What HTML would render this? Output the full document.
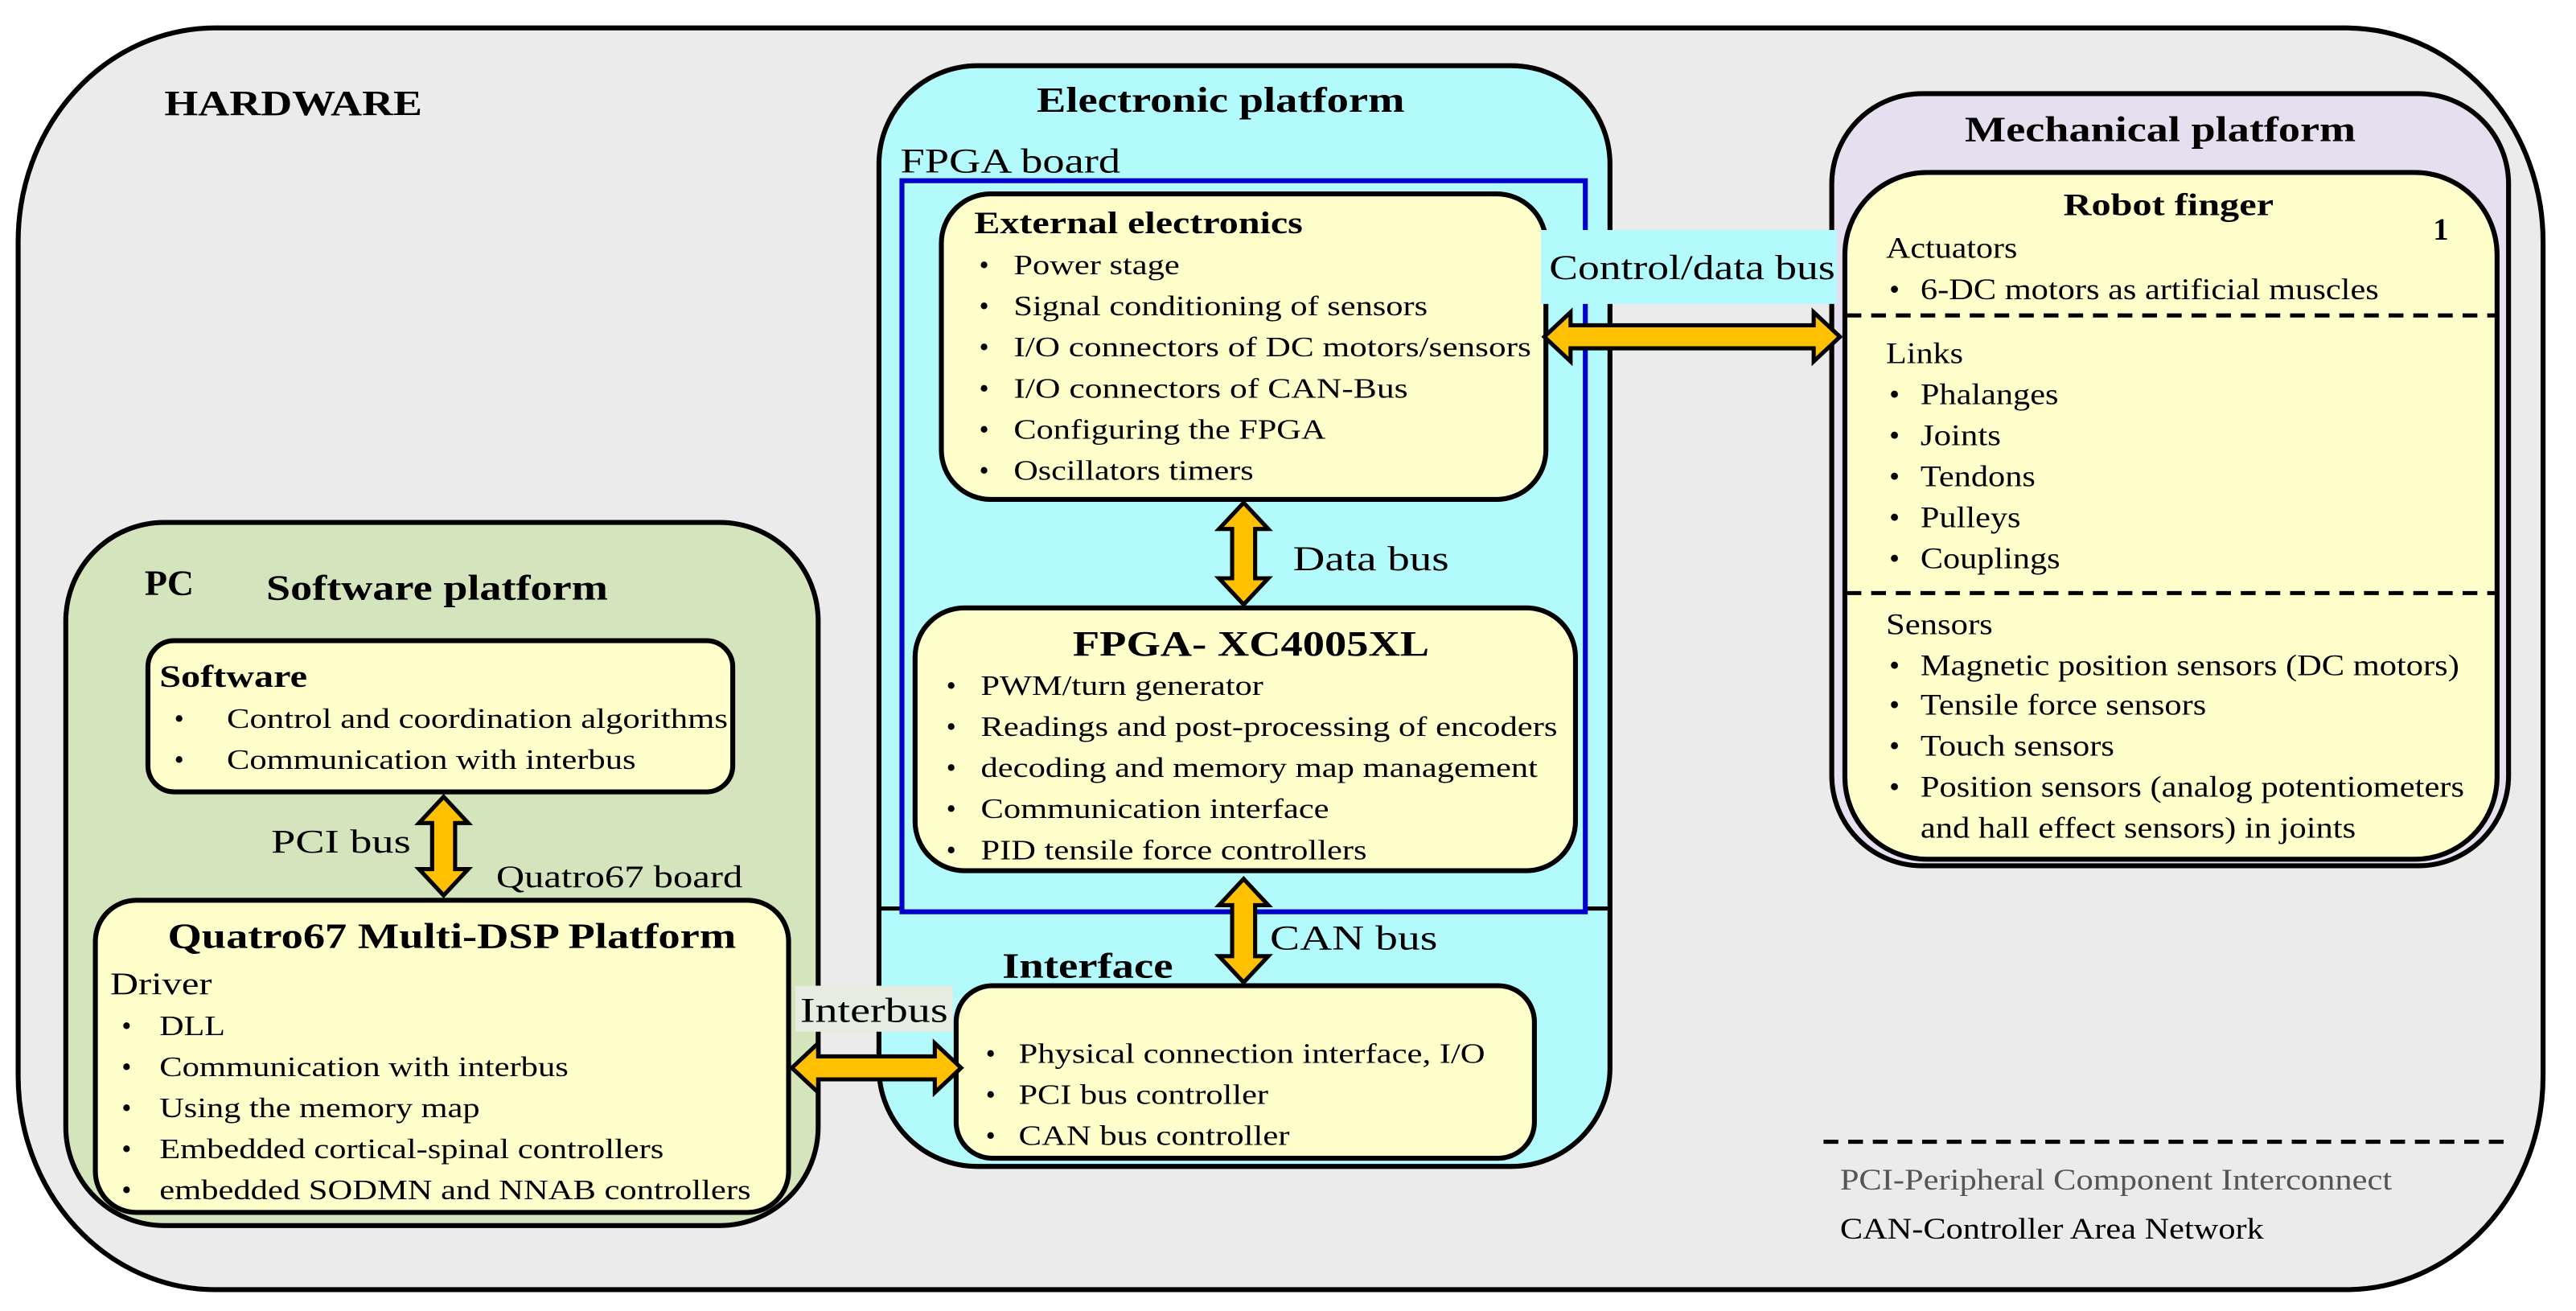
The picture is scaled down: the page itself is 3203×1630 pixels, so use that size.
<!DOCTYPE html>
<html><head><meta charset="utf-8"><style>
html,body{margin:0;padding:0;background:#fff}
svg{display:block}
text{font-family:"Liberation Serif","Times New Roman",serif;fill:#000}
.b{font-weight:bold}
.arr{fill:#ffc000;stroke:#000;stroke-width:2.5;stroke-linejoin:miter}
</style></head><body>
<svg width="3203" height="1630" viewBox="0 0 1568 798" xmlns="http://www.w3.org/2000/svg">
<rect x="0" y="0" width="1568" height="798" fill="#fff"/>
<rect x="11" y="17" width="1537" height="768" rx="120" ry="130" fill="#ebebeb" stroke="#000" stroke-width="3"/>
<text x="100" y="70" class="b" font-size="22" textLength="157" lengthAdjust="spacingAndGlyphs">HARDWARE</text>

<rect x="40" y="318" width="458" height="428" rx="60" fill="#d4e4bc" stroke="#000" stroke-width="3"/>
<text x="88" y="362" class="b" font-size="22" textLength="30" lengthAdjust="spacingAndGlyphs">PC</text>
<text x="162" y="365" class="b" font-size="22" textLength="208" lengthAdjust="spacingAndGlyphs">Software platform</text>
<rect x="90" y="390" width="356" height="92" rx="16" fill="#ffffcc" stroke="#000" stroke-width="3"/>
<text x="97" y="418" class="b" font-size="19" textLength="90" lengthAdjust="spacingAndGlyphs">Software</text>
<g font-size="17">
<text x="106" y="443">•</text><text x="138" y="443" textLength="305" lengthAdjust="spacingAndGlyphs">Control and coordination algorithms</text>
<text x="106" y="468">•</text><text x="138" y="468" textLength="249" lengthAdjust="spacingAndGlyphs">Communication with interbus</text>
</g>
<text x="165" y="519" font-size="20" textLength="85" lengthAdjust="spacingAndGlyphs">PCI bus</text>
<text x="302" y="540" font-size="19" textLength="150" lengthAdjust="spacingAndGlyphs">Quatro67 board</text>
<rect x="58" y="548" width="422" height="190" rx="25" fill="#ffffcc" stroke="#000" stroke-width="3"/>
<text x="102" y="577" class="b" font-size="22" textLength="346" lengthAdjust="spacingAndGlyphs">Quatro67 Multi-DSP Platform</text>
<text x="67" y="605" font-size="19" textLength="62" lengthAdjust="spacingAndGlyphs">Driver</text>
<g font-size="17">
<text x="74" y="630">•</text><text x="97" y="630" textLength="40" lengthAdjust="spacingAndGlyphs">DLL</text>
<text x="74" y="655">•</text><text x="97" y="655" textLength="249" lengthAdjust="spacingAndGlyphs">Communication with interbus</text>
<text x="74" y="680">•</text><text x="97" y="680" textLength="195" lengthAdjust="spacingAndGlyphs">Using the memory map</text>
<text x="74" y="705">•</text><text x="97" y="705" textLength="307" lengthAdjust="spacingAndGlyphs">Embedded cortical-spinal controllers</text>
<text x="74" y="730">•</text><text x="97" y="730" textLength="360" lengthAdjust="spacingAndGlyphs">embedded SODMN and NNAB controllers</text>
</g>

<rect x="535" y="40" width="445" height="670" rx="60" fill="#b3fafd" stroke="#000" stroke-width="3"/>
<text x="631" y="68" class="b" font-size="22" textLength="224" lengthAdjust="spacingAndGlyphs">Electronic platform</text>
<text x="548" y="105" font-size="21" textLength="134" lengthAdjust="spacingAndGlyphs">FPGA board</text>
<line x1="535" y1="553" x2="548" y2="553" stroke="#000" stroke-width="2.5"/>
<line x1="966" y1="553" x2="980" y2="553" stroke="#000" stroke-width="2.5"/>
<rect x="549" y="110" width="416" height="445" fill="none" stroke="#0000cc" stroke-width="3"/>

<rect x="573" y="118" width="368" height="186" rx="30" fill="#ffffcc" stroke="#000" stroke-width="3"/>
<text x="593" y="142" class="b" font-size="19" textLength="200" lengthAdjust="spacingAndGlyphs">External electronics</text>
<g font-size="17">
<text x="596" y="167">•</text><text x="617" y="167" textLength="101" lengthAdjust="spacingAndGlyphs">Power stage</text>
<text x="596" y="192">•</text><text x="617" y="192" textLength="252" lengthAdjust="spacingAndGlyphs">Signal conditioning of sensors</text>
<text x="596" y="217">•</text><text x="617" y="217" textLength="315" lengthAdjust="spacingAndGlyphs">I/O connectors of  DC motors/sensors</text>
<text x="596" y="242">•</text><text x="617" y="242" textLength="240" lengthAdjust="spacingAndGlyphs">I/O connectors of  CAN-Bus</text>
<text x="596" y="267">•</text><text x="617" y="267" textLength="190" lengthAdjust="spacingAndGlyphs">Configuring the FPGA</text>
<text x="596" y="292">•</text><text x="617" y="292" textLength="146" lengthAdjust="spacingAndGlyphs">Oscillators timers</text>
</g>
<text x="787" y="347" font-size="21" textLength="95" lengthAdjust="spacingAndGlyphs">Data bus</text>

<rect x="557" y="370" width="402" height="160" rx="30" fill="#ffffcc" stroke="#000" stroke-width="3"/>
<text x="653" y="399" class="b" font-size="22" textLength="217" lengthAdjust="spacingAndGlyphs">FPGA- XC4005XL</text>
<g font-size="17">
<text x="576" y="423">•</text><text x="597" y="423" textLength="172" lengthAdjust="spacingAndGlyphs">PWM/turn generator</text>
<text x="576" y="448">•</text><text x="597" y="448" textLength="351" lengthAdjust="spacingAndGlyphs">Readings and post-processing of encoders</text>
<text x="576" y="473">•</text><text x="597" y="473" textLength="339" lengthAdjust="spacingAndGlyphs">decoding and memory map management</text>
<text x="576" y="498">•</text><text x="597" y="498" textLength="212" lengthAdjust="spacingAndGlyphs">Communication interface</text>
<text x="576" y="523">•</text><text x="597" y="523" textLength="235" lengthAdjust="spacingAndGlyphs">PID tensile force controllers</text>
</g>
<text x="773" y="578" font-size="21" textLength="102" lengthAdjust="spacingAndGlyphs">CAN bus</text>
<text x="610" y="595" class="b" font-size="22" textLength="104" lengthAdjust="spacingAndGlyphs">Interface</text>

<rect x="582" y="600" width="352" height="105" rx="22" fill="#ffffcc" stroke="#000" stroke-width="3"/>
<g font-size="17">
<text x="600" y="647">•</text><text x="620" y="647" textLength="284" lengthAdjust="spacingAndGlyphs">Physical connection interface, I/O</text>
<text x="600" y="672">•</text><text x="620" y="672" textLength="152" lengthAdjust="spacingAndGlyphs">PCI bus controller</text>
<text x="600" y="697">•</text><text x="620" y="697" textLength="165" lengthAdjust="spacingAndGlyphs">CAN bus controller</text>
</g>

<rect x="1115" y="57" width="412" height="470" rx="55" fill="#e6dff0" stroke="#000" stroke-width="3"/>
<text x="1196" y="86" class="b" font-size="22" textLength="238" lengthAdjust="spacingAndGlyphs">Mechanical platform</text>
<rect x="1123" y="105" width="397" height="418" rx="50" fill="#ffffcc" stroke="#000" stroke-width="3"/>
<text x="1256" y="131" class="b" font-size="19" textLength="128" lengthAdjust="spacingAndGlyphs">Robot finger</text>
<text x="1481" y="146" class="b" font-size="19">1</text>
<g font-size="18">
<text x="1148" y="157" textLength="80" lengthAdjust="spacingAndGlyphs">Actuators</text>
<text x="1150" y="182">•</text><text x="1169" y="182" textLength="279" lengthAdjust="spacingAndGlyphs">6-DC motors as artificial muscles</text>
<text x="1148" y="221" textLength="47" lengthAdjust="spacingAndGlyphs">Links</text>
<text x="1150" y="246">•</text><text x="1169" y="246" textLength="84" lengthAdjust="spacingAndGlyphs">Phalanges</text>
<text x="1150" y="271">•</text><text x="1169" y="271" textLength="49" lengthAdjust="spacingAndGlyphs">Joints</text>
<text x="1150" y="296">•</text><text x="1169" y="296" textLength="70" lengthAdjust="spacingAndGlyphs">Tendons</text>
<text x="1150" y="321">•</text><text x="1169" y="321" textLength="61" lengthAdjust="spacingAndGlyphs">Pulleys</text>
<text x="1150" y="346">•</text><text x="1169" y="346" textLength="85" lengthAdjust="spacingAndGlyphs">Couplings</text>
<text x="1148" y="386" textLength="65" lengthAdjust="spacingAndGlyphs">Sensors</text>
<text x="1150" y="411">•</text><text x="1169" y="411" textLength="328" lengthAdjust="spacingAndGlyphs">Magnetic position sensors (DC motors)</text>
<text x="1150" y="435">•</text><text x="1169" y="435" textLength="174" lengthAdjust="spacingAndGlyphs">Tensile force sensors</text>
<text x="1150" y="460">•</text><text x="1169" y="460" textLength="118" lengthAdjust="spacingAndGlyphs">Touch sensors</text>
<text x="1150" y="485">•</text><text x="1169" y="485" textLength="331" lengthAdjust="spacingAndGlyphs">Position sensors (analog potentiometers</text>
<text x="1169" y="510" textLength="265" lengthAdjust="spacingAndGlyphs">and hall effect sensors) in joints</text>
</g>
<line x1="1124" y1="192" x2="1519" y2="192" stroke="#000" stroke-width="2.5" stroke-dasharray="9,6"/>
<line x1="1124" y1="361" x2="1519" y2="361" stroke="#000" stroke-width="2.5" stroke-dasharray="9,6"/>

<rect x="938" y="140" width="180" height="45" fill="#b3fafd"/>
<text x="943" y="170" font-size="21" textLength="174" lengthAdjust="spacingAndGlyphs">Control/data bus</text>
<rect x="484" y="600" width="96" height="28" fill="#e6ece0"/>
<text x="487" y="622" font-size="21" textLength="90" lengthAdjust="spacingAndGlyphs">Interbus</text>

<polygon class="arr" points="270,485 285,501 277,501 277,529 285,529 270,545 255,529 263,529 263,501 255,501"/>
<polygon class="arr" points="757,306 772,322 764,322 764,352 772,352 757,368 742,352 750,352 750,322 742,322"/>
<polygon class="arr" points="757,535 772,551 764,551 764,582 772,582 757,598 742,582 750,582 750,551 742,551"/>
<polygon class="arr" points="482,650 498,635 498,643 569,643 569,635 585,650 569,665 569,657 498,657 498,665"/>
<polygon class="arr" points="940,205 956,190 956,198 1104,198 1104,190 1120,205 1104,220 1104,212 956,212 956,220"/>

<line x1="1110" y1="695" x2="1527" y2="695" stroke="#000" stroke-width="2.5" stroke-dasharray="9,6"/>
<text x="1120" y="724" font-size="18" style="fill:#555" textLength="336" lengthAdjust="spacingAndGlyphs">PCI-Peripheral Component Interconnect</text>
<text x="1120" y="754" font-size="18" textLength="258" lengthAdjust="spacingAndGlyphs">CAN-Controller Area Network</text>
</svg>
</body></html>
